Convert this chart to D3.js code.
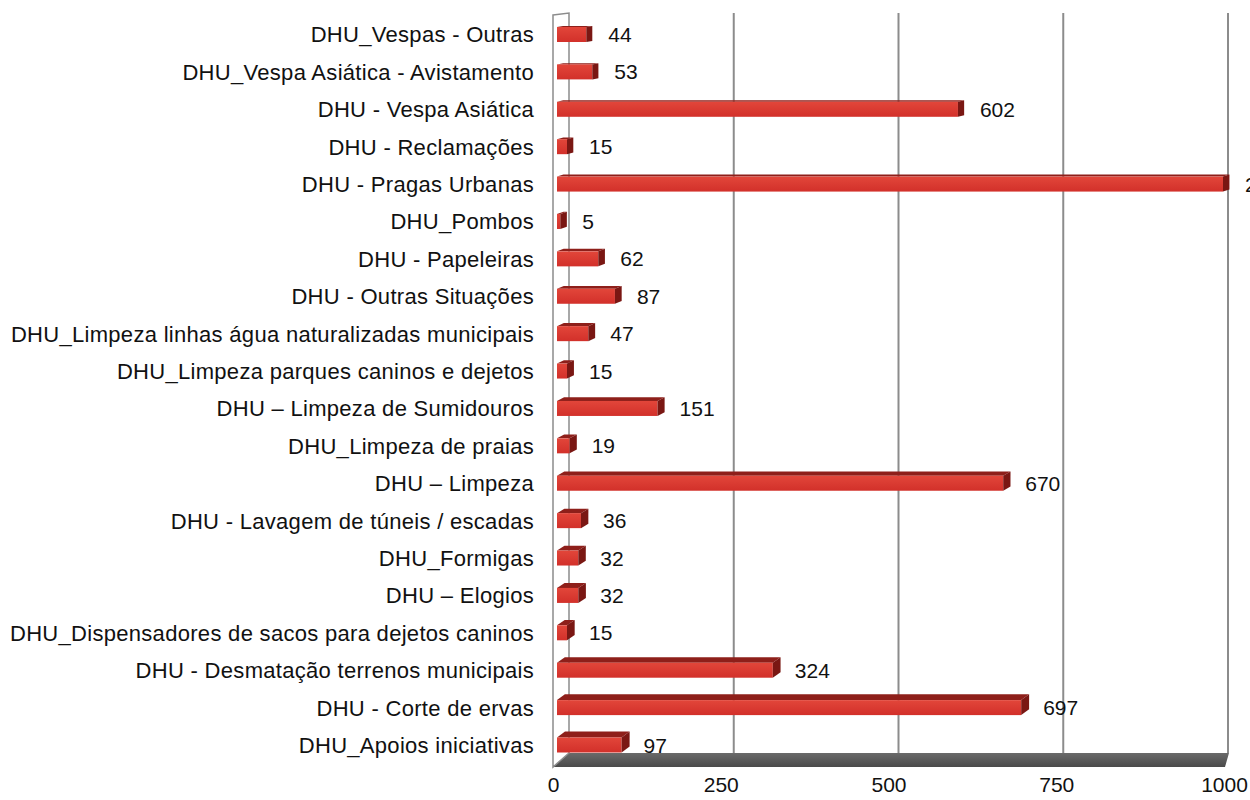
<!DOCTYPE html>
<html>
<head>
<meta charset="utf-8">
<script src="https://cdn.jsdelivr.net/npm/d3@7"></script>
<style>
  html, body { margin: 0; padding: 0; background: #ffffff; }
  svg { display: block; }
  text { font-family: "Liberation Sans", Arial, sans-serif; fill: #111111; }
</style>
</head>
<body>
<div id="chart"></div>
<script>
const categories = [
  "DHU_Vespas - Outras",
  "DHU_Vespa Asiática - Avistamento",
  "DHU - Vespa Asiática",
  "DHU - Reclamações",
  "DHU - Pragas Urbanas",
  "DHU_Pombos",
  "DHU - Papeleiras",
  "DHU - Outras Situações",
  "DHU_Limpeza linhas água naturalizadas municipais",
  "DHU_Limpeza parques caninos e dejetos",
  "DHU – Limpeza de Sumidouros",
  "DHU_Limpeza de praias",
  "DHU – Limpeza",
  "DHU - Lavagem de túneis / escadas",
  "DHU_Formigas",
  "DHU – Elogios",
  "DHU_Dispensadores de sacos para dejetos caninos",
  "DHU - Desmatação terrenos municipais",
  "DHU - Corte de ervas",
  "DHU_Apoios iniciativas"
];
const values = [44, 53, 602, 15, 2000, 5, 62, 87, 47, 15, 151, 19, 670, 36, 32, 32, 15, 324, 697, 97];
const tickValues = [0, 250, 500, 750, 1000];
const axisMax = 1000;

const W = 1250, H = 800;
const svg = d3.select("#chart").append("svg").attr("width", W).attr("height", H);

const defs = svg.append("defs");
const g1 = defs.append("linearGradient").attr("id", "barFront").attr("x1", 0).attr("y1", 0).attr("x2", 0).attr("y2", 1);
g1.append("stop").attr("offset", "0%").attr("stop-color", "#e2463a");
g1.append("stop").attr("offset", "100%").attr("stop-color", "#d2302a");
const g2 = defs.append("linearGradient").attr("id", "floorG").attr("x1", 0).attr("y1", 0).attr("x2", 0).attr("y2", 1);
g2.append("stop").attr("offset", "0%").attr("stop-color", "#6a6a6a");
g2.append("stop").attr("offset", "100%").attr("stop-color", "#4a4a4a");

const y = d3.scalePoint().domain(categories).range([34.5, 745]);
const xFront = d3.scaleLinear().domain([0, axisMax]).range([557, 1223]);
const xBack = d3.scaleLinear().domain([0, axisMax]).range([569, 1228]);
const xTick = d3.scaleLinear().domain([0, axisMax]).range([553, 1224]);

const wallTop = 13, floorBack = 753, floorFront = 767;

// floor
svg.append("polygon")
  .attr("points", [[xFront(0) - 4, floorFront], [xFront(axisMax) + 2, floorFront], [xBack(axisMax) + 1, floorBack], [xBack(0), floorBack]].map(p => p.join(",")).join(" "))
  .attr("fill", "url(#floorG)");

// left wall
svg.append("polygon")
  .attr("points", [[xFront(0) - 4, wallTop + 2], [xBack(0), wallTop], [xBack(0), floorBack], [xFront(0) - 4, floorFront]].map(p => p.join(",")).join(" "))
  .attr("fill", "#ffffff").attr("stroke", "#8c8c8c").attr("stroke-width", 1.5);

// grid lines on back wall
svg.append("g").selectAll("line").data(tickValues.filter(d => d > 0)).join("line")
  .attr("x1", d => xBack(d)).attr("x2", d => xBack(d))
  .attr("y1", wallTop).attr("y2", floorBack)
  .attr("stroke", "#8c8c8c").attr("stroke-width", 2);

// bars
const n = categories.length;
const barH = 15;
const bars = svg.append("g");
categories.forEach((c, i) => {
  const v = values[i];
  const t = i / (n - 1);
  const dy = 1 + 5 * t;
  const dx = 6 + 2 * t;
  const x0 = xFront(0), x1 = xFront(Math.min(v, axisMax));
  const y0 = y(c) - barH / 2;
  const gb = bars.append("g");
  gb.append("polygon")
    .attr("points", [[x0, y0], [x1, y0], [x1 + dx, y0 - dy], [x0 + dx, y0 - dy]].map(p => p.join(",")).join(" "))
    .attr("fill", "#8e1f1a");
  gb.append("rect")
    .attr("x", x0).attr("y", y0).attr("width", x1 - x0).attr("height", barH)
    .attr("fill", "url(#barFront)");
  gb.append("polygon")
    .attr("points", [[x1, y0], [x1 + dx, y0 - dy], [x1 + dx, y0 - dy + barH], [x1, y0 + barH]].map(p => p.join(",")).join(" "))
    .attr("fill", "#7a1713");
});

// value labels
svg.append("g").selectAll("text").data(categories).join("text")
  .attr("x", (c, i) => xFront(Math.min(values[i], axisMax)) + 22)
  .attr("y", c => y(c))
  .attr("dy", "0.36em")
  .attr("font-size", 21)
  .text((c, i) => values[i]);

// category labels
svg.append("g").selectAll("text").data(categories).join("text")
  .attr("x", 534)
  .attr("y", c => y(c))
  .attr("dy", "0.36em")
  .attr("text-anchor", "end")
  .attr("font-size", 22)
  .attr("letter-spacing", 0.3)
  .text(c => c);

// x axis labels
const axis = d3.axisBottom(xTick).tickValues(tickValues).tickSize(0).tickPadding(0).tickFormat(d3.format("d"));
const ax = svg.append("g").attr("transform", "translate(0,777)").call(axis);
ax.select(".domain").remove();
ax.selectAll("text").attr("font-size", 21).attr("fill", "#111111")
  .style("font-family", '"Liberation Sans", Arial, sans-serif');
</script>
</body>
</html>
